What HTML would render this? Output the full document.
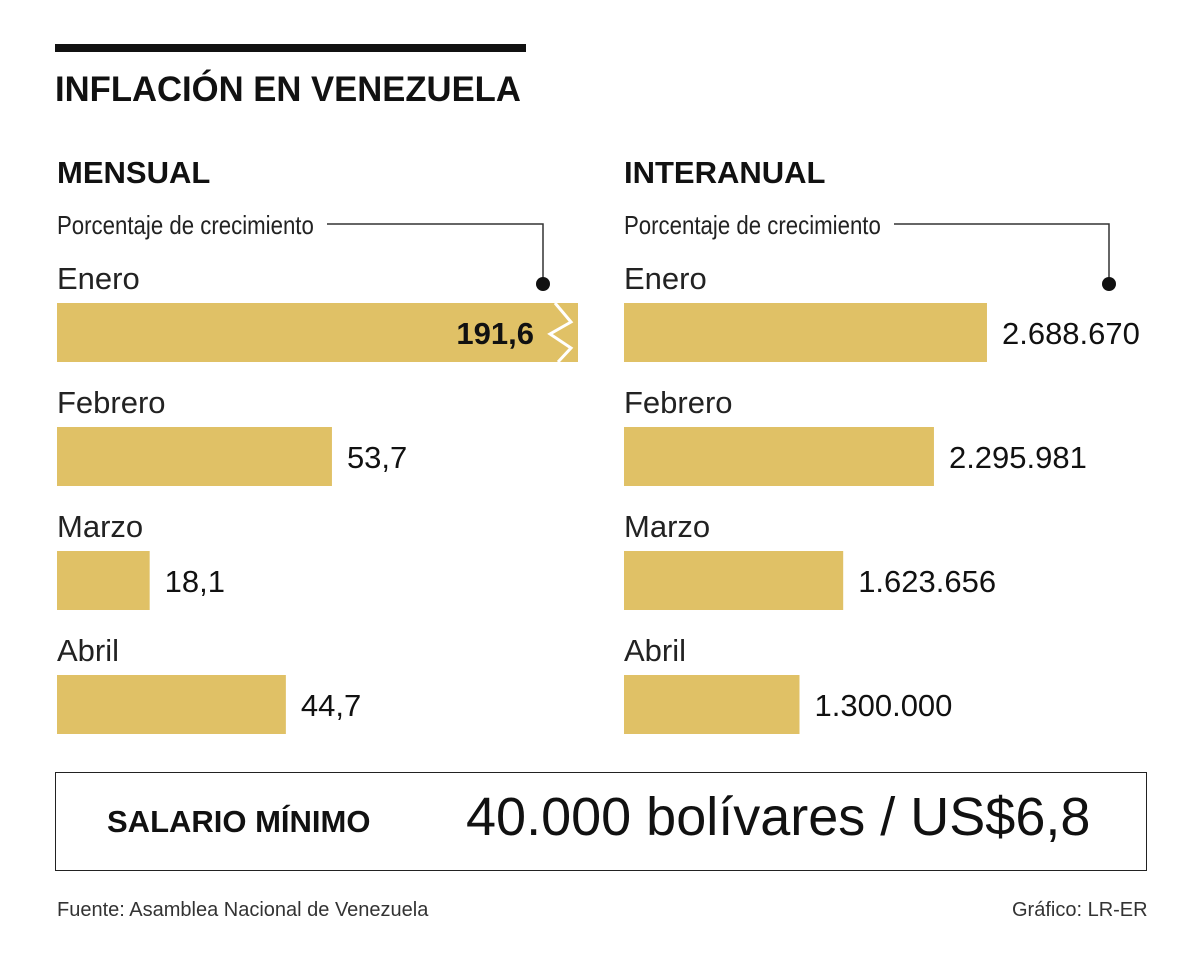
<!DOCTYPE html>
<html><head><meta charset="utf-8"><style>
body{margin:0;width:1200px;height:966px;background:#fff;font-family:"Liberation Sans",sans-serif;position:relative;overflow:hidden}
.t{position:absolute;white-space:nowrap;color:#111}
</style></head><body>
<div style="position:absolute;left:55px;top:44px;width:471px;height:8px;background:#111"></div>
<div class="t" style="left:55px;top:70px;font-size:35px;font-weight:bold;transform:scaleX(0.99);transform-origin:left">INFLACIÓN EN VENEZUELA</div>
<svg id="c" width="1200" height="966" style="position:absolute;left:0;top:0"></svg>
<div style="position:absolute;left:55px;top:772px;width:1092px;height:99px;border:1.5px solid #222;box-sizing:border-box"></div>
<div class="t" style="left:107px;top:804px;font-size:31px;font-weight:bold">SALARIO MÍNIMO</div>
<div class="t" style="left:466px;top:786px;font-size:54px">40.000 bolívares / US$6,8</div>
<div class="t" style="left:57px;top:899px;font-size:20px;color:#333">Fuente: Asamblea Nacional de Venezuela</div>
<div class="t" style="left:1012px;top:899px;font-size:20px;color:#333">Gráfico: LR-ER</div>
<script>
const months=["Enero","Febrero","Marzo","Abril"];
const monthly=[191.6,53.7,18.1,44.7];
const monthlyLabels=["191,6","53,7","18,1","44,7"];
const yearly=[2688670,2295981,1623656,1300000];
const yearlyLabels=["2.688.670","2.295.981","1.623.656","1.300.000"];
const NS="http://www.w3.org/2000/svg";
const svg=document.getElementById('c');
function mk(t,a,txt){const e=document.createElementNS(NS,t);for(const k in a)e.setAttribute(k,a[k]);if(txt!=null)e.textContent=txt;svg.appendChild(e);return e;}
const xM=v=>Math.min(v*5.12,521);
const xY=v=>v*1.35e-4;
const yRow=i=>303+i*124;
function panel(x0,title,vals,labels,xf,key,dotX){
  let e=mk('text',{x:x0,y:183,'font-size':31,'font-weight':'bold',fill:'#111',transform:`translate(${x0} 0) scale(1.0 1) translate(${-x0} 0)`},title);
  
  
  e=mk('text',{x:x0,y:234,'font-size':26,fill:'#222',transform:`translate(${x0} 0) scale(0.855 1) translate(${-x0} 0)`},'Porcentaje de crecimiento');
  
  
  e=mk('polyline',{points:`${x0+270},224 ${dotX},224 ${dotX},284`,fill:'none',stroke:'#333','stroke-width':1.5});
  
  
  e=mk('circle',{cx:dotX,cy:284,r:7,fill:'#111'});
  
  
  vals.forEach((v,i)=>{
    const y=yRow(i),w=xf(v);
    let l=mk('text',{x:x0,y:y-14,'font-size':31,fill:'#222'},months[i]);
    
    
    let b=mk('rect',{x:x0,y:y,width:w,height:59,fill:'#e0c166'});
    
    
    const broken=key==='mensual'&&v*5.12>521;
    if(broken){
      let z=mk('polyline',{points:`${x0+w-23},${y} ${x0+w-7},${y+19} ${x0+w-28},${y+31} ${x0+w-7},${y+45} ${x0+w-20},${y+59}`,fill:'none',stroke:'#fff','stroke-width':3});
      
      
    }
    let t=mk('text',{x:broken?x0+w-44:x0+w+15,y:y+41,'font-size':31,fill:'#111','font-weight':broken?'bold':'normal','text-anchor':broken?'end':'start'},labels[i]);
    
    
  });
}
panel(57,'MENSUAL',monthly,monthlyLabels,xM,'mensual',543);
panel(624,'INTERANUAL',yearly,yearlyLabels,xY,'interanual',1109);
</script>
</body></html>
